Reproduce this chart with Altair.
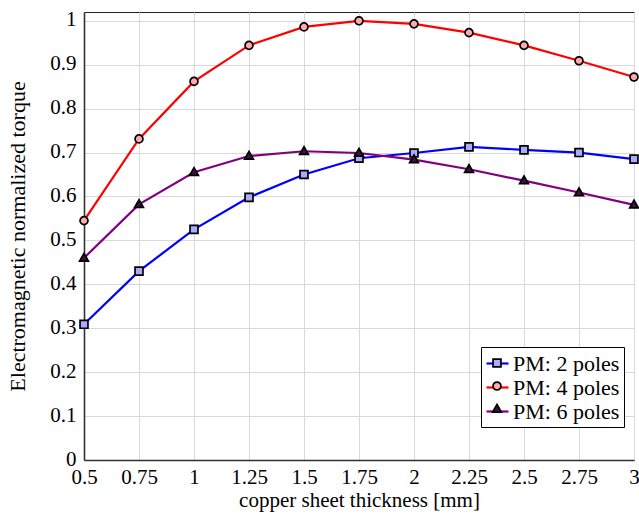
import altair as alt
import pandas as pd

x_vals = [0.5, 0.75, 1, 1.25, 1.5, 1.75, 2, 2.25, 2.5, 2.75, 3]
pm2 = [0.309, 0.430, 0.525, 0.598, 0.650, 0.687, 0.699, 0.713, 0.706, 0.700, 0.685]
pm4 = [0.545, 0.731, 0.862, 0.944, 0.986, 1.000, 0.993, 0.973, 0.944, 0.909, 0.872]
pm6 = [0.460, 0.582, 0.655, 0.692, 0.703, 0.699, 0.684, 0.662, 0.636, 0.609, 0.581]
series = ["PM: 2 poles", "PM: 4 poles", "PM: 6 poles"]
line_colors = ["#0000ff", "#ff0000", "#800080"]
fill_colors = ["#aaaaff", "#ffaaaa", "#401040"]
x_ticks = [0.5, 0.75, 1, 1.25, 1.5, 1.75, 2, 2.25, 2.5, 2.75, 3]
y_ticks = [0, 0.1, 0.2, 0.3, 0.4, 0.5, 0.6, 0.7, 0.8, 0.9, 1]

# marker shapes as unit paths (scaled by symbol size)
shape_paths = [
    "M-0.36,-0.36H0.36V0.36H-0.36Z",
    "M0.36,0A0.36,0.36,0,1,1,-0.36,0A0.36,0.36,0,1,1,0.36,0Z",
    "M0,-0.42L0.4,0.28L-0.4,0.28Z",
]

rows = []
for s, vals in zip(series, [pm2, pm4, pm6]):
    for xv, yv in zip(x_vals, vals):
        rows.append({"x": xv, "y": yv, "series": s, "marker": s})
df = pd.DataFrame(rows)

FONT = "Liberation Serif"
LX, LY = 397, 335
FS = 21
SYM = 484

legend_common = dict(
    title=None,
    orient="none",
    legendX=LX,
    legendY=LY,
    symbolSize=SYM,
    labelFont=FONT,
    labelFontSize=22,
    labelOffset=3,
    rowPadding=0,
    padding=4,
)

x_enc = alt.X(
    "x:Q",
    scale=alt.Scale(domain=[0.5, 3], nice=False, zero=False),
    axis=alt.Axis(
        values=x_ticks,
        labelExpr="toString(datum.value)",
        labelFlush=False,
        title="copper sheet thickness [mm]",
        titleFontSize=21,
        titleFontWeight="normal",
        titlePadding=2,
        labelFontSize=FS,
        labelPadding=6,
        ticks=False,
    ),
)
y_enc = alt.Y(
    "y:Q",
    scale=alt.Scale(domain=[0, 1.02], nice=False),
    axis=alt.Axis(
        values=y_ticks,
        labelExpr="toString(datum.value)",
        labelFlush=False,
        labelOffset=-1,
        title="Electromagnetic normalized torque",
        titleFontSize=22,
        titleFontWeight="normal",
        titlePadding=20,
        labelFontSize=FS,
        labelPadding=8,
        ticks=False,
    ),
)

lines = alt.Chart(df).mark_line(strokeWidth=2.2).encode(
    x=x_enc,
    y=y_enc,
    stroke=alt.Stroke(
        "series:N",
        scale=alt.Scale(domain=series, range=line_colors),
        legend=alt.Legend(
            symbolType="stroke",
            symbolStrokeWidth=2.2,
            strokeColor="black",
            fillColor="white",
            labelColor="black",
            zindex=1,
            **legend_common,
        ),
    ),
)

points = alt.Chart(df).mark_point(
    filled=True, size=SYM, stroke="black", strokeWidth=1.7, opacity=1
).encode(
    x="x:Q",
    y="y:Q",
    fill=alt.Fill(
        "marker:N",
        scale=alt.Scale(range=fill_colors),
        legend=alt.Legend(
            symbolStrokeColor="black",
            symbolStrokeWidth=1.7,
            labelExpr="''",
            zindex=2,
            **legend_common,
        ),
    ),
    shape=alt.Shape(
        "marker:N",
        scale=alt.Scale(range=shape_paths),
    ),
)

chart = (
    alt.layer(lines, points)
    .properties(
        width=550,
        height=448,
        autosize=alt.AutoSizeParams(type="none"),
        padding={"left": 84, "top": 12, "right": 5, "bottom": 56},
    )
    .configure(font=FONT)
    .configure_view(stroke="#222222", strokeWidth=1)
    .configure_axis(
        grid=True,
        gridColor="#d9d9d9",
        gridWidth=1,
        domainColor="#333333",
        domainWidth=1.6,
        labelColor="black",
        titleColor="black",
        labelFont=FONT,
        titleFont=FONT,
    )
)

chart.save("out.html", embed_options={"renderer": "svg", "actions": False})
